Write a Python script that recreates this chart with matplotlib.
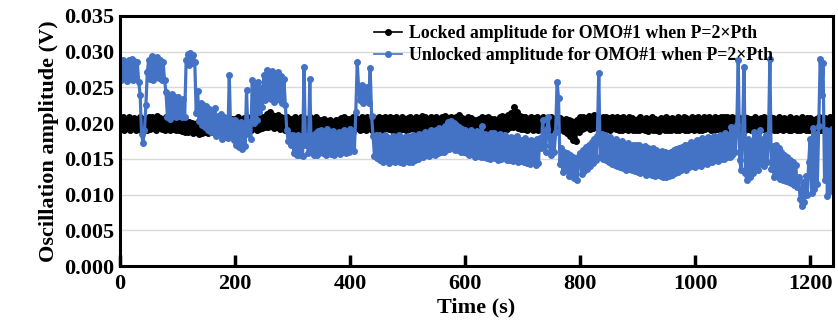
import numpy as np
import matplotlib
matplotlib.use("Agg")
import matplotlib.pyplot as plt

plt.rcParams['font.family'] = ['Liberation Serif', 'DejaVu Serif']
plt.rcParams['font.weight'] = 'bold'
plt.rcParams['path.simplify'] = False

# sampling times (s), one reading every 2.5 s
time_s = np.arange(0, 1240.1, 2.5)

# locked amplitude, mV (one row = 50 s)
locked_mv = [
    20.6, 19.2, 20.8, 19.0, 20.4, 19.3, 20.9, 19.1, 20.5, 19.4, 20.7, 19.0, 20.3, 19.2, 20.8, 19.1, 20.6, 19.3, 20.4, 19.0,
    20.8, 19.2, 20.9, 19.3, 20.6, 19.1, 21.0, 19.4, 20.7, 19.2, 20.5, 19.0, 20.8, 19.3, 20.6, 19.1, 20.9, 19.2, 20.4, 19.1,
    20.5, 19.0, 20.3, 18.9, 20.4, 18.8, 20.1, 18.7, 20.2, 18.9, 20.0, 18.6, 19.9, 18.7, 20.1, 18.5, 19.8, 18.6, 20.0, 18.7,
    20.1, 18.6, 20.3, 18.8, 20.2, 18.9, 20.6, 19.0, 20.4, 19.1, 20.8, 19.0, 20.5, 19.2, 20.7, 19.0, 20.4, 19.1, 20.6, 19.0,
    20.6, 19.2, 20.8, 19.1, 20.5, 19.3, 20.7, 19.0, 20.9, 19.2, 20.6, 19.1, 20.8, 19.3, 20.5, 19.0, 20.7, 19.2, 20.9, 19.3,
    20.9, 19.4, 21.3, 19.5, 21.5, 19.6, 21.2, 19.3, 21.0, 19.5, 21.1, 19.2, 20.8, 19.3, 20.7, 19.1, 20.9, 19.2, 20.6, 19.0,
    20.6, 19.0, 20.8, 19.2, 20.5, 19.1, 20.9, 19.3, 20.7, 19.2, 20.4, 19.0, 20.8, 19.1, 20.6, 19.3, 20.9, 19.2, 20.5, 19.0,
    20.4, 18.8, 20.6, 19.0, 20.3, 18.7, 20.5, 18.9, 20.2, 18.8, 20.5, 19.0, 20.4, 18.9, 20.7, 19.1, 20.8, 19.2, 20.6, 19.0,
    20.6, 19.1, 20.9, 19.2, 20.7, 19.3, 20.5, 19.0, 20.8, 19.2, 20.6, 19.1, 20.9, 19.3, 20.7, 19.0, 20.8, 19.2, 20.5, 19.1,
    20.9, 19.4, 20.7, 19.1, 20.8, 19.3, 20.6, 19.2, 20.9, 19.0, 20.7, 19.1, 20.8, 19.3, 20.5, 19.1, 20.9, 19.2, 20.6, 19.1,
    20.7, 19.2, 20.9, 19.3, 20.6, 19.0, 20.8, 19.2, 20.7, 19.3, 21.0, 19.2, 20.8, 19.1, 20.6, 19.3, 20.9, 19.2, 20.7, 19.0,
    20.9, 19.2, 20.6, 19.0, 20.8, 19.3, 21.0, 19.2, 20.7, 19.1, 20.9, 19.3, 20.6, 19.0, 20.8, 19.2, 21.1, 19.3, 20.7, 19.1,
    20.6, 19.0, 20.8, 19.1, 20.7, 18.8, 20.5, 18.6, 20.4, 18.8, 20.6, 19.0, 20.9, 19.2, 20.7, 19.1, 20.8, 19.0, 20.6, 18.9,
    20.6, 18.3, 20.4, 18.5, 20.8, 19.1, 21.0, 19.3, 20.9, 19.2, 21.2, 19.4, 21.4, 19.5, 22.2, 19.6, 21.6, 19.3, 21.0, 19.2,
    20.8, 19.2, 20.9, 19.1, 20.6, 19.3, 20.8, 19.0, 20.7, 19.2, 20.9, 19.1, 20.6, 19.3, 20.8, 19.0, 20.7, 19.2, 20.5, 19.1,
    20.9, 19.3, 20.6, 19.1, 20.8, 19.0, 20.7, 19.2, 20.5, 18.9, 20.6, 18.6, 20.4, 18.2, 20.3, 17.6, 20.2, 17.5, 20.5, 18.8,
    20.8, 19.2, 20.9, 19.3, 20.7, 19.4, 21.0, 19.2, 20.8, 19.3, 21.1, 19.4, 20.9, 19.2, 20.7, 19.3, 20.8, 19.1, 20.9, 19.2,
    20.7, 19.1, 20.9, 19.3, 20.6, 19.2, 20.8, 19.0, 20.7, 19.1, 20.9, 19.2, 20.6, 19.0, 20.8, 19.3, 20.7, 19.1, 20.5, 19.0,
    20.6, 19.0, 20.8, 19.2, 20.5, 19.1, 20.7, 18.9, 20.6, 19.2, 20.8, 19.0, 20.6, 19.1, 20.4, 18.9, 20.7, 19.2, 20.6, 19.0,
    20.8, 19.1, 20.6, 19.0, 20.7, 19.2, 20.5, 19.0, 20.8, 19.1, 20.6, 19.2, 20.9, 19.0, 20.7, 19.1, 20.5, 19.2, 20.8, 19.0,
    20.7, 19.2, 20.8, 19.0, 20.6, 19.1, 20.9, 19.2, 20.7, 19.3, 20.8, 19.1, 20.6, 19.0, 20.9, 19.2, 20.7, 19.1, 20.8, 19.3,
    20.8, 19.1, 20.9, 19.2, 20.6, 19.3, 20.8, 19.1, 20.7, 19.0, 20.9, 19.2, 20.6, 19.1, 20.8, 19.0, 20.7, 19.2, 20.6, 19.1,
    20.6, 19.2, 20.8, 19.1, 20.5, 19.0, 20.7, 19.2, 20.8, 19.1, 20.6, 19.0, 20.9, 19.2, 20.7, 19.1, 20.5, 19.0, 20.8, 19.2,
    20.6, 19.0, 20.7, 19.2, 20.5, 19.1, 20.8, 19.0, 20.6, 19.2, 20.7, 19.1, 20.5, 19.0, 20.8, 19.2, 20.6, 19.1, 20.7, 19.0,
    20.7, 19.1, 20.5, 19.0, 20.6, 19.2, 20.8, 19.1, 20.5, 19.0, 20.7, 19.2, 20.6, 19.1, 20.8, 19.0, 20.6,
]

# unlocked amplitude, mV (one row = 50 s)
unlocked_mv = [
    28.6, 26.0, 28.9, 26.3, 28.4, 25.9, 28.8, 26.4, 29.0, 26.1, 28.7, 26.5, 28.5, 25.8, 24.0, 18.5, 17.2, 19.0, 22.5, 27.2,
    28.9, 26.2, 29.4, 26.0, 28.7, 26.6, 29.2, 26.3, 28.8, 26.1, 28.5, 26.0, 24.3, 20.9, 23.9, 20.6, 24.1, 21.0, 23.7, 20.8,
    23.6, 21.0, 23.1, 20.8, 23.4, 20.9, 28.8, 29.7, 28.2, 29.8, 28.4, 29.5, 28.6, 21.4, 24.5, 20.3, 22.8, 19.8, 22.6, 19.5,
    22.4, 19.0, 22.0, 18.7, 21.5, 18.9, 22.1, 18.2, 21.0, 18.5, 21.3, 17.8, 20.8, 18.0, 20.6, 17.9, 26.7, 18.4, 20.5, 17.6,
    20.4, 17.0, 19.8, 16.6, 20.1, 16.4, 19.7, 16.8, 24.6, 18.5, 20.2, 17.8, 26.1, 20.0, 25.2, 20.4, 25.8, 21.5, 24.9, 22.3,
    26.8, 23.2, 27.5, 23.8, 27.0, 23.4, 27.3, 23.0, 26.6, 23.6, 27.1, 23.3, 26.6, 22.8, 26.2, 22.5, 19.0, 17.5, 18.4, 16.9,
    18.4, 15.8, 18.0, 15.5, 18.3, 15.6, 18.1, 15.4, 27.8, 17.0, 18.2, 15.8, 26.2, 15.9, 18.3, 15.6, 18.6, 15.6, 18.9, 15.9,
    19.0, 15.8, 18.7, 15.6, 19.2, 15.9, 18.3, 15.7, 18.9, 15.6, 18.5, 15.9, 18.8, 15.7, 18.4, 16.0, 19.1, 15.8, 18.6, 16.0,
    19.2, 16.3, 18.8, 16.1, 21.5, 28.5, 24.8, 23.2, 25.3, 22.8, 24.9, 23.5, 25.0, 22.8, 27.7, 21.0, 18.2, 15.4, 18.3, 15.1,
    18.3, 14.9, 17.9, 14.6, 18.4, 14.8, 18.1, 14.4, 17.8, 14.7, 18.2, 14.5, 18.0, 14.8, 18.4, 14.6, 17.9, 14.4, 18.1, 14.7,
    18.2, 14.6, 18.0, 14.5, 18.3, 14.8, 18.1, 15.0, 18.5, 15.3, 18.4, 15.2, 18.8, 15.6, 18.6, 15.4, 19.0, 15.7, 18.7, 15.5,
    19.0, 15.8, 19.3, 16.0, 19.1, 15.9, 19.6, 16.2, 20.1, 16.4, 20.3, 16.6, 20.0, 16.2, 19.8, 16.3, 19.5, 16.0, 19.2, 15.9,
    19.0, 15.8, 18.8, 15.5, 19.1, 15.7, 18.6, 15.3, 18.9, 15.4, 18.7, 15.3, 19.6, 15.2, 18.5, 15.1, 18.4, 15.0, 18.6, 15.2,
    18.6, 15.1, 18.2, 14.9, 18.5, 15.0, 18.0, 15.2, 18.3, 14.8, 17.8, 14.8, 18.1, 14.7, 17.9, 14.9, 18.2, 14.6, 17.7, 14.7,
    17.6, 14.5, 17.9, 14.4, 17.4, 14.3, 17.7, 14.5, 17.5, 14.2, 17.8, 14.4, 17.9, 16.5, 20.5, 17.0, 16.0, 19.2, 20.9, 16.8,
    15.5, 18.2, 16.0, 18.8, 25.8, 23.5, 14.3, 16.5, 13.2, 16.0, 13.5, 15.8, 12.6, 15.5, 12.8, 15.2, 12.3, 15.0, 12.0, 15.4,
    15.8, 12.9, 16.2, 13.3, 16.6, 13.6, 17.0, 14.0, 17.4, 14.4, 17.8, 14.8, 18.2, 27.0, 15.2, 18.5, 15.0, 18.3, 14.8, 18.1,
    14.5, 18.0, 14.3, 17.6, 14.2, 17.8, 14.0, 17.3, 13.8, 17.5, 13.7, 17.0, 13.5, 17.2, 13.6, 16.8, 13.4, 17.0, 13.3, 16.9,
    13.2, 16.9, 13.0, 16.6, 13.1, 16.8, 12.8, 16.5, 12.9, 16.3, 12.7, 16.5, 12.6, 16.2, 12.8, 16.0, 12.6, 16.1, 12.5, 15.9,
    12.5, 15.8, 12.6, 16.0, 12.8, 16.2, 13.0, 16.4, 13.2, 16.5, 13.4, 16.7, 13.6, 16.9, 13.5, 17.0, 13.8, 17.3, 14.0, 17.1,
    13.9, 17.6, 14.2, 17.4, 14.0, 17.9, 14.4, 17.6, 14.3, 18.0, 14.6, 17.8, 14.5, 18.2, 14.8, 18.0, 14.7, 18.3, 15.0, 18.1,
    15.0, 18.6, 15.3, 18.4, 15.2, 19.5, 15.5, 19.2, 16.0, 19.8, 28.8, 14.8, 13.5, 18.5, 27.8, 13.0, 12.0, 17.8, 12.5, 17.5,
    13.0, 18.7, 13.8, 18.0, 13.5, 19.0, 14.3, 17.8, 14.0, 18.4, 14.5, 17.6, 29.0, 13.6, 16.8, 12.4, 17.0, 12.8, 16.5, 12.2,
    16.0, 12.0, 15.6, 11.9, 15.3, 11.8, 14.9, 11.6, 14.6, 11.4, 14.2, 11.0, 12.5, 9.4, 8.4, 11.8, 9.0, 12.6, 10.0, 14.5,
    17.8, 10.2, 19.3, 10.8, 18.5, 11.5, 19.6, 29.0, 24.0, 28.4, 12.0, 19.0, 9.8, 18.6, 10.5, 19.2, 13.5,
]

locked = np.array(locked_mv) / 1000.0
unlocked = np.array(unlocked_mv) / 1000.0

fig = plt.figure(figsize=(8.38, 3.33), dpi=100)
ax = fig.add_axes([0.1432, 0.2012, 0.851, 0.7508])

# wide strokes so the closely spaced readings merge into a solid band
ax.plot(time_s, locked, '-o', color='black', lw=2.3, ms=4.0,
        label='Locked amplitude for OMO#1 when P=2\u00d7Pth')
ax.plot(time_s, unlocked, '-o', color='#4472C4', lw=2.3, ms=4.0,
        label='Unlocked amplitude for OMO#1 when P=2\u00d7Pth')

ax.set_xlim(0, 1240)
ax.set_ylim(0, 0.035)
ax.set_xticks([0, 200, 400, 600, 800, 1000, 1200])
ax.set_yticks(np.arange(0, 0.0351, 0.005))
ax.set_yticklabels(['%.3f' % v for v in np.arange(0, 0.0351, 0.005)])
ax.yaxis.grid(True, color='#d9d9d9', lw=1.0)
ax.set_axisbelow(True)

ax.tick_params(axis='x', direction='in', length=8, width=2.5, labelsize=16, pad=6)
ax.tick_params(axis='y', length=0, labelsize=16, pad=4)
for s in ax.spines.values():
    s.set_linewidth(2.2)

ax.set_xlabel('Time (s)', fontsize=16, fontweight='bold', labelpad=2)
ax.set_ylabel('Oscillation amplitude (V)', fontsize=16, fontweight='bold', labelpad=4)

leg = ax.legend(loc='upper left', bbox_to_anchor=(0.356, 0.962), frameon=False,
                fontsize=12.8, borderpad=0, borderaxespad=0, handlelength=1.6,
                handletextpad=0.4, labelspacing=0.25)
for h in leg.legend_handles:
    h.set_linewidth(1.2)
    h.set_markersize(4)

fig.savefig('out.png', dpi=100)
